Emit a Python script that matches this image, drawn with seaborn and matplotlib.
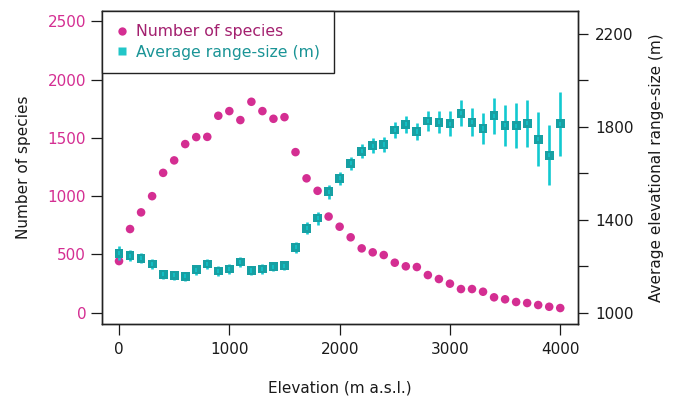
import matplotlib
matplotlib.use("Agg")
import matplotlib.pyplot as plt
import seaborn as sns
import pandas as pd
from matplotlib.lines import Line2D

elevation = [0, 100, 200, 300, 400, 500, 600, 700, 800, 900,
             1000, 1100, 1200, 1300, 1400, 1500, 1600, 1700, 1800, 1900,
             2000, 2100, 2200, 2300, 2400, 2500, 2600, 2700, 2800, 2900,
             3000, 3100, 3200, 3300, 3400, 3500, 3600, 3700, 3800, 3900, 4000]
species = [443, 718, 861, 1000, 1200, 1307, 1447, 1507, 1509, 1690,
           1730, 1653, 1810, 1730, 1664, 1678, 1378, 1153, 1046, 825,
           738, 647, 552, 518, 495, 429, 398, 392, 323, 289,
           249, 203, 203, 180, 132, 115, 92, 83, 66, 51, 40]
range_size = [1255, 1245, 1234, 1209, 1165, 1161, 1157, 1184, 1209, 1179,
              1188, 1218, 1181, 1188, 1198, 1202, 1281, 1363, 1407, 1520,
              1578, 1643, 1695, 1718, 1724, 1786, 1811, 1780, 1825, 1819,
              1813, 1858, 1820, 1793, 1847, 1806, 1804, 1815, 1746, 1678, 1813]
range_err = [30, 24, 22, 22, 20, 20, 20, 20, 20, 20,
             20, 20, 20, 20, 20, 20, 24, 26, 28, 30,
             28, 27, 30, 32, 34, 33, 36, 37, 42, 47,
             54, 56, 61, 66, 79, 89, 97, 102, 116, 128, 137]
x_ticks = [0, 1000, 2000, 3000, 4000]
left_ticks = [0, 500, 1000, 1500, 2000, 2500]
right_ticks = [1000, 1200, 1400, 1600, 1800, 2000, 2200]
right_labels = ["1000", "", "1400", "", "1800", "", "2200"]

df = pd.DataFrame({"elevation": elevation, "species": species,
                   "range_size": range_size, "err": range_err})

sns.set_style("white")
plt.rcParams["font.family"] = ["DejaVu Sans"]

MAG = "#d42e92"
MAG_TXT = "#a3206f"
TEAL_FILL = "#17a0a3"
CYAN = "#12c9d0"
TEAL_TXT = "#1a9496"
INK = "#1a1a1a"

fig = plt.figure(figsize=(6.78, 4.03), dpi=100)
ax = fig.add_axes([0.150, 0.196, 0.703, 0.777])
ax2 = ax.twinx()

sns.scatterplot(data=df, x="elevation", y="species", ax=ax, color=MAG,
                s=38, edgecolor="none", zorder=3)
ax2.errorbar(df["elevation"], df["range_size"], yerr=df["err"], fmt="none",
             ecolor=CYAN, elinewidth=1.9, capsize=0, zorder=2)
sns.scatterplot(data=df, x="elevation", y="range_size", ax=ax2, color=TEAL_FILL,
                marker="s", s=40, edgecolor="none", zorder=3)
ax2.errorbar(df["elevation"], df["range_size"], yerr=df["err"] * 0 + 9, fmt="none",
             ecolor=CYAN, elinewidth=1.2, capsize=0, zorder=4, alpha=0.9)

ax.set_xlim(-157, 4164)
ax.set_ylim(-97, 2590)
ax2.set_ylim(951, 2299)

ax.set_xticks(x_ticks)
ax.set_yticks(left_ticks)
ax2.set_yticks(right_ticks)
ax2.set_yticklabels(right_labels)

for a in (ax, ax2):
    for s in a.spines.values():
        s.set_color("#222222")
        s.set_linewidth(1.0)

ax.tick_params(axis="both", direction="out", length=8, width=0.9, labelsize=11,
               colors=INK, left=True, bottom=True)
ax.tick_params(axis="x", pad=5)
ax.tick_params(axis="y", pad=3.2, labelcolor=MAG)
ax2.tick_params(axis="y", direction="out", length=7, width=0.9, labelsize=11,
                colors=INK, pad=5, right=True)

ax.set_xlabel("Elevation (m a.s.l.)", fontsize=11, color=INK, labelpad=17)
ax.set_ylabel("Number of species", fontsize=11, color=INK, labelpad=12)
ax2.set_ylabel("Average elevational range-size (m)", fontsize=11, color=INK,
               labelpad=11)

handles = [Line2D([], [], marker="o", color="none", markerfacecolor=MAG,
                  markeredgecolor="none", markersize=6),
           Line2D([], [], marker="s", color="none", markerfacecolor="#22c6c8",
                  markeredgecolor="none", markersize=6)]
leg = ax2.legend(handles, ["Number of species", "Average range-size (m)"],
                 loc="upper left", bbox_to_anchor=(0, 1), borderaxespad=0,
                 fancybox=False, framealpha=1, edgecolor="#222222", fontsize=11.3,
                 handletextpad=0.45, borderpad=0.85, labelspacing=0.35,
                 handlelength=0.9)
leg.get_frame().set_linewidth(1.0)
leg.get_texts()[0].set_color(MAG_TXT)
leg.get_texts()[1].set_color(TEAL_TXT)
if ax.get_legend() is not None:
    ax.get_legend().remove()

fig.savefig("out.png", dpi=100)
